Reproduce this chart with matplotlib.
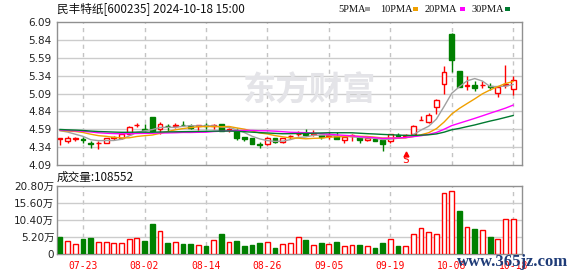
import numpy as np
import pandas as pd
import matplotlib
matplotlib.use('Agg')
import matplotlib.pyplot as plt
from matplotlib.patches import Rectangle
from matplotlib.transforms import blended_transform_factory

# ---- data ----
dates = ['07-18', '07-19', '07-22', '07-23', '07-24', '07-25', '07-26', '07-29', '07-30', '07-31',
         '08-01', '08-02', '08-05', '08-06', '08-07', '08-08', '08-09', '08-12', '08-13', '08-14',
         '08-15', '08-16', '08-19', '08-20', '08-21', '08-22', '08-23', '08-26', '08-27', '08-28',
         '08-29', '08-30', '09-02', '09-03', '09-04', '09-05', '09-06', '09-09', '09-10', '09-11',
         '09-12', '09-13', '09-18', '09-19', '09-20', '09-23', '09-24', '09-25', '09-26', '09-27',
         '09-30', '10-08', '10-09', '10-10', '10-11', '10-14', '10-15', '10-16', '10-17', '10-18']

opens = [4.46, 4.43, 4.455, 4.45, 4.40, 4.395, 4.40, 4.465, 4.47, 4.53,
         4.645, 4.60, 4.76, 4.60, 4.64, 4.64, 4.655, 4.63, 4.64, 4.65,
         4.64, 4.665, 4.585, 4.57, 4.48, 4.47, 4.385, 4.38, 4.47, 4.405,
         4.49, 4.52, 4.54, 4.53, 4.505, 4.50, 4.49, 4.44, 4.50, 4.475,
         4.435, 4.46, 4.435, 4.42, 4.51, 4.50, 4.525, 4.715, 4.695, 4.895,
         5.22, 5.92, 5.40, 5.20, 5.21, 5.205, 5.20, 5.10, 5.215, 5.15]
highs = [4.46, 4.49, 4.48, 4.48, 4.43, 4.43, 4.47, 4.50, 4.53, 4.635,
         4.68, 4.665, 4.76, 4.69, 4.67, 4.68, 4.70, 4.665, 4.65, 4.68,
         4.67, 4.665, 4.61, 4.61, 4.48, 4.47, 4.41, 4.48, 4.47, 4.47,
         4.515, 4.57, 4.595, 4.58, 4.51, 4.55, 4.55, 4.48, 4.52, 4.48,
         4.48, 4.475, 4.44, 4.53, 4.54, 4.52, 4.65, 4.77, 4.82, 5.01,
         5.48, 5.93, 5.40, 5.33, 5.26, 5.26, 5.235, 5.18, 5.485, 5.34]
lows = [4.37, 4.40, 4.42, 4.40, 4.33, 4.31, 4.40, 4.44, 4.45, 4.51,
        4.62, 4.575, 4.55, 4.53, 4.57, 4.605, 4.64, 4.59, 4.585, 4.60,
        4.59, 4.56, 4.55, 4.44, 4.43, 4.39, 4.33, 4.37, 4.40, 4.40,
        4.46, 4.49, 4.50, 4.49, 4.46, 4.46, 4.45, 4.395, 4.43, 4.40,
        4.43, 4.42, 4.285, 4.40, 4.48, 4.48, 4.515, 4.715, 4.68, 4.80,
        5.08, 5.385, 5.18, 5.135, 5.12, 5.17, 5.145, 5.04, 5.16, 5.075]
closes = [4.46, 4.465, 4.47, 4.44, 4.38, 4.40, 4.47, 4.475, 4.52, 4.62,
          4.65, 4.575, 4.56, 4.67, 4.63, 4.65, 4.645, 4.61, 4.645, 4.64,
          4.65, 4.56, 4.59, 4.47, 4.45, 4.39, 4.375, 4.47, 4.415, 4.47,
          4.495, 4.525, 4.505, 4.535, 4.48, 4.505, 4.45, 4.48, 4.505, 4.435,
          4.47, 4.43, 4.39, 4.53, 4.50, 4.51, 4.635, 4.72, 4.795, 5.00,
          5.39, 5.56, 5.18, 5.205, 5.16, 5.215, 5.175, 5.185, 5.225, 5.28]
# volume in 万 shares
volumes = [5.33, 4.12, 3.2, 4.7, 5.0, 3.7, 3.7, 3.5, 3.5, 4.6,
           4.9, 4.1, 9.2, 7.1, 3.5, 3.7, 3.2, 3.2, 2.8, 2.3,
           4.4, 6.2, 3.7, 4.1, 2.3, 2.9, 3.5, 3.8, 1.7, 3.2,
           3.4, 5.3, 4.2, 2.9, 3.3, 3.2, 3.6, 2.3, 2.9, 2.9,
           2.6, 1.8, 3.3, 4.7, 2.6, 2.6, 6.2, 8.0, 6.8, 6.2,
           18.6, 19.2, 13.2, 8.3, 7.7, 7.4, 5.3, 4.7, 10.8, 10.8552]
# closes before 07-18, estimated from where the MA lines start
pre_closes = [4.62, 4.58, 4.60, 4.63, 4.59, 4.57, 4.60, 4.62, 4.61, 4.59,
              4.60, 4.58, 4.56, 4.59, 4.61, 4.60, 4.57, 4.58, 4.59, 4.59,
              4.55, 4.53, 4.58, 4.62, 4.60, 4.565, 4.62, 4.59, 4.615]

tick_dates = ['07-23', '08-02', '08-14', '08-26', '09-05', '09-19', '10-08', '10-18']
price_ticks = [4.09, 4.34, 4.59, 4.84, 5.09, 5.34, 5.59, 5.84, 6.09]
vol_ticks = [0, 5.2, 10.4, 15.6, 20.8]
ma_periods = [5, 10, 20, 30]
ma_colors = ['#a0a0a0', '#f0a000', '#ff00ff', '#007a30']
signal_date = '09-23'

RED = '#ff0000'
GREEN = '#008000'
CJK = ['Noto Sans CJK SC', 'DejaVu Sans']

W, H = 578, 276
fig = plt.figure(figsize=(W / 100, H / 100), dpi=100)


def box(l, t, r, b):
    return [l / W, 1 - b / H, (r - l) / W, (b - t) / H]


ax = fig.add_axes(box(57, 22, 522, 165))
axv = fig.add_axes(box(57, 186, 522, 254))

n = len(dates)
x = np.arange(n)
o = np.array(opens)
h = np.array(highs)
lo = np.array(lows)
c = np.array(closes)
v = np.array(volumes)

all_close = pd.Series(pre_closes + closes)
tick_idx = [dates.index(d) for d in tick_dates]

for a in (ax, axv):
    a.set_xlim(-0.4, n + 0.15)
    for s in a.spines.values():
        s.set_color('#909090')
        s.set_linewidth(1)
    for i in tick_idx:
        a.axvline(i, color='#c4c4c4', lw=1, ls=(0, (3, 3)), zorder=0)

# ---- price panel ----
ax.set_ylim(price_ticks[0], price_ticks[-1])
for p in price_ticks[1:-1]:
    ax.axhline(p, color='#cccccc', lw=1, zorder=0)
ax.set_yticks(price_ticks)
ax.set_yticklabels([f'{p:.2f}' for p in price_ticks])
ax.set_xticks([])
ax.tick_params(axis='y', length=0, pad=4, labelsize=7.5, labelcolor='#222222')

ax.text(0.542, 0.52, '东方财富', transform=ax.transAxes, ha='center', va='center',
        fontsize=24, fontweight='bold', color='#e4e4e8', family=CJK, zorder=0)

up = c >= o
col = np.where(up, RED, GREEN)
ax.vlines(x, lo, h, colors=col, lw=1, zorder=2)
body = np.maximum(np.abs(c - o), 0.004)
ax.bar(x, body, bottom=np.minimum(o, c), width=0.62, color=np.where(up, 'white', GREEN),
       edgecolor=col, lw=1, zorder=3)

for per, mc in zip(ma_periods, ma_colors):
    ma = all_close.rolling(per).mean().to_numpy()[-n:]
    ax.plot(x, ma, color=mc, lw=1, zorder=4)

si = dates.index(signal_date)
tr = blended_transform_factory(ax.transData, ax.transAxes)
ax.plot([si], [0.078], marker='^', ms=3.5, color=RED, transform=tr, clip_on=False, zorder=5)
ax.text(si, 0.035, 'S', transform=tr, ha='center', va='center', fontsize=8,
        family='DejaVu Sans Mono', color=RED, zorder=5)

# ---- volume panel ----
prev = np.concatenate([[pre_closes[-1]], c[:-1]])
vup = c >= prev
vcol = np.where(vup, RED, GREEN)
axv.set_ylim(0, vol_ticks[-1])
for t in vol_ticks[1:-1]:
    axv.axhline(t, color='#cccccc', lw=1, zorder=0)
axv.bar(x, v, width=0.62, color=np.where(vup, 'white', GREEN), edgecolor=vcol, lw=1, zorder=3)
axv.set_yticks(vol_ticks)
axv.set_yticklabels(['0' if t == 0 else f'{t:.2f}万' for t in vol_ticks], family=CJK[::-1])
axv.tick_params(axis='y', length=0, pad=2, labelsize=7.5, labelcolor='#222222')
axv.set_xticks(tick_idx)
axv.set_xticklabels(tick_dates, family='DejaVu Sans Mono', fontsize=7, color=RED)
axv.tick_params(axis='x', length=0, pad=5)

# ---- header texts ----
fig.text(57 / W, 1 - 9 / H, '民丰特纸[600235] 2024-10-18 15:00', ha='left', va='center',
         fontsize=8.4, family=CJK, color='#111111')
legend_pos = [(338, 365), (380, 413), (425, 460), (472, 505)]
for per, mc, (tx, mx) in zip(ma_periods, ma_colors, legend_pos):
    fig.text(tx / W, 1 - 9 / H, f'{per}PMA', ha='left', va='center', fontsize=7.5,
             family='Liberation Serif', color='#111111')
    fig.add_artist(Rectangle((mx / W, 1 - 10.5 / H), 5 / W, 3 / H, transform=fig.transFigure,
                             color=mc, lw=0))

fig.text(57 / W, 1 - 177 / H, f'成交量:{int(round(volumes[-1] * 1e4))}', ha='left', va='center',
         fontsize=8.4, family=CJK, color='#111111')
fig.text(457 / W, 1 - 262 / H, 'www.365jz.com', ha='left', va='center', fontsize=12,
         family='Liberation Serif', fontweight='bold', color='#1f3c78', zorder=10)

fig.savefig('out.png', dpi=100)
